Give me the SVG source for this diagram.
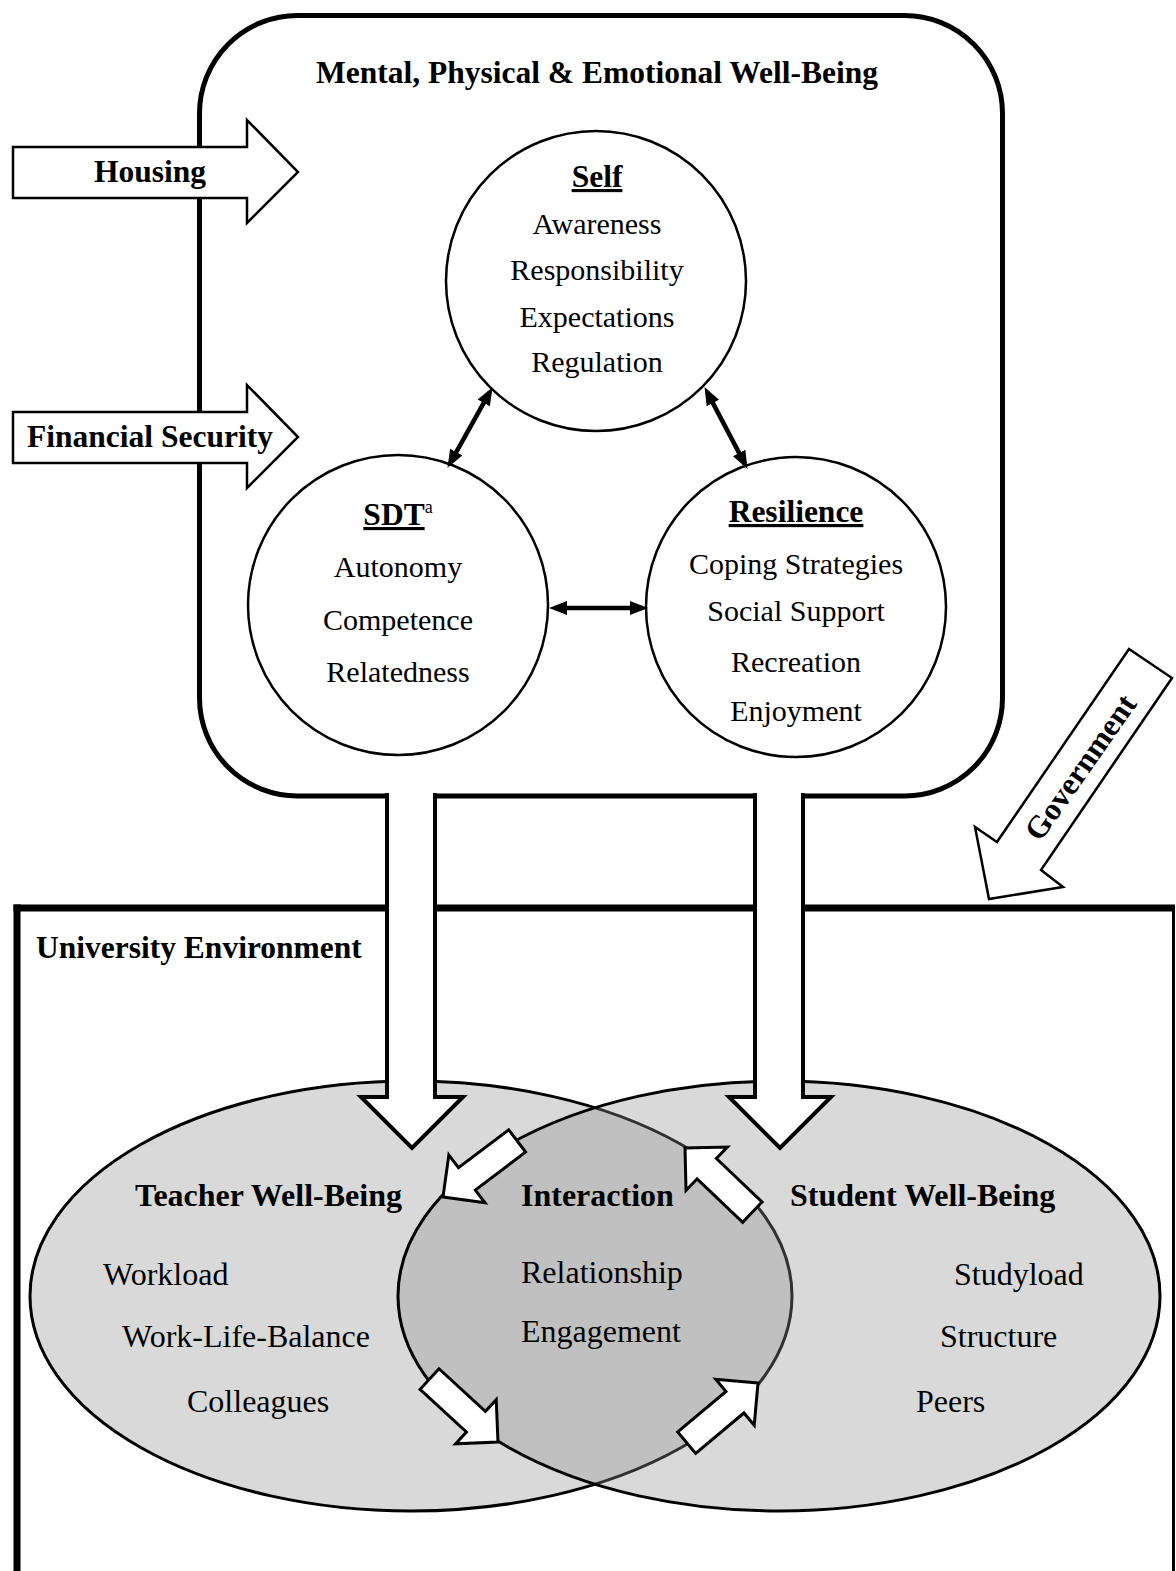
<svg xmlns="http://www.w3.org/2000/svg" width="1176" height="1571" viewBox="0 0 1176 1571">
<style>
text{font-family:"Liberation Serif","Times New Roman",serif;fill:#000}
.b{font-weight:bold;font-size:31.5px}
.r{font-size:30px}
.bb{font-weight:bold;font-size:32px}
.rr{font-size:32px}
.m{text-anchor:middle}
.circle{fill:#fff;stroke:#000;stroke-width:2.5}
.blk{fill:#fff;stroke:#000;stroke-width:3;stroke-linejoin:miter}
.dbl{stroke:#000;stroke-width:4.5;fill:none;marker-start:url(#ah);marker-end:url(#ah)}
</style>
<defs>
<marker id="ah" markerUnits="userSpaceOnUse" markerWidth="18" markerHeight="14" refX="12" refY="7" orient="auto-start-reverse" viewBox="0 0 18 14">
<path d="M0,0 L18,7 L0,14 z" fill="#000"/>
</marker>
<path id="sa" d="M0,0 L-30,-30 L-30,-14 L-93,-14 L-93,14 L-30,14 L-30,30 Z"/>
</defs>
<rect width="1176" height="1571" fill="#fff"/>

<g id="wellbeing-box">
<rect x="199.5" y="15.5" width="803" height="780.5" rx="98" ry="98" fill="#fff" stroke="#000" stroke-width="5"/>
<text class="b m" x="597" y="83">Mental, Physical &amp; Emotional Well-Being</text>
</g>

<g id="self">
<circle class="circle" cx="596" cy="281" r="150"/>
<text class="b m" x="597" y="187" text-decoration="underline">Self</text>
<text class="r m" x="597" y="234">Awareness</text>
<text class="r m" x="597" y="280">Responsibility</text>
<text class="r m" x="597" y="327">Expectations</text>
<text class="r m" x="597" y="372">Regulation</text>
</g>

<g id="sdt">
<circle class="circle" cx="398" cy="605" r="150"/>
<text class="m" x="398" y="525"><tspan class="b" text-decoration="underline">SDT</tspan><tspan font-size="18" dy="-12">a</tspan></text>
<text class="r m" x="398" y="577">Autonomy</text>
<text class="r m" x="398" y="630">Competence</text>
<text class="r m" x="398" y="682">Relatedness</text>
</g>

<g id="resilience">
<circle class="circle" cx="796" cy="607" r="150"/>
<text class="b m" x="796" y="522" text-decoration="underline">Resilience</text>
<text class="r m" x="796" y="574">Coping Strategies</text>
<text class="r m" x="796" y="621">Social Support</text>
<text class="r m" x="796" y="672">Recreation</text>
<text class="r m" x="796" y="721">Enjoyment</text>
</g>

<g id="housing">
<path d="M13,147 H247 V120 L298,172 L247,223 V198 H13 Z" fill="#fff" stroke="#000" stroke-width="2.5"/>
<text class="b m" x="150" y="182">Housing</text>
</g>
<g id="financial-security">
<path d="M13,412 H247 V385 L298,437 L247,488 V463 H13 Z" fill="#fff" stroke="#000" stroke-width="2.5"/>
<text class="b m" x="150" y="447">Financial Security</text>
</g>

<g id="university-environment">
<line x1="13.5" y1="908" x2="1175" y2="908" stroke="#000" stroke-width="7"/>
<line x1="17" y1="904.5" x2="17" y2="1571" stroke="#000" stroke-width="7"/>
<line x1="1173.5" y1="908" x2="1173.5" y2="1571" stroke="#000" stroke-width="3"/>
<text class="b" x="36" y="958">University Environment</text>
</g>

<g id="government">
<path d="M1129,649 L1172,678 L1041,870 L1063,887 L989,899 L975,827 L997,842 Z" fill="#fff" stroke="#000" stroke-width="2.5"/>
<text class="b m" transform="translate(1080,767) rotate(-55)" y="11">Government</text>
</g>

<g id="teacher-wellbeing">
<ellipse cx="411" cy="1296" rx="381" ry="215" fill="#d9d9d9" stroke="#000" stroke-width="3"/>
</g>
<g id="student-wellbeing">
<ellipse cx="779" cy="1296" rx="381" ry="215" fill="#909090" fill-opacity="0.34" stroke="#000" stroke-width="3"/>
</g>

<g id="connectors">
<line class="dbl" x1="489.6" y1="392.4" x2="450.4" y2="462.6"/>
<line class="dbl" x1="707.3" y1="392.4" x2="744.7" y2="463.6"/>
<line class="dbl" x1="555" y1="608" x2="642" y2="608"/>
<path d="M387,793 V1097 H361 L412,1148 L463,1097 H435 V793" fill="#fff" stroke="#000" stroke-width="4"/>
<path d="M755,793 V1097 H729 L780,1148 L831,1097 H803 V793" fill="#fff" stroke="#000" stroke-width="4"/>
<use href="#sa" class="blk" transform="translate(443,1197) rotate(142.9)"/>
<use href="#sa" class="blk" transform="translate(685,1148) rotate(223.6)"/>
<use href="#sa" class="blk" transform="translate(498,1442) rotate(42.6)"/>
<use href="#sa" class="blk" transform="translate(758,1383) rotate(-39.9)"/>
</g>

<g id="teacher-text">
<text class="bb" x="135" y="1206">Teacher Well-Being</text>
<text class="rr" x="103" y="1285">Workload</text>
<text class="rr" x="122" y="1347">Work-Life-Balance</text>
<text class="rr" x="187" y="1412">Colleagues</text>
</g>
<g id="interaction">
<text class="bb" x="521" y="1206">Interaction</text>
<text class="rr" x="521" y="1283">Relationship</text>
<text class="rr" x="521" y="1342">Engagement</text>
</g>
<g id="student-text">
<text class="bb" x="790" y="1206">Student Well-Being</text>
<text class="rr" x="954" y="1285">Studyload</text>
<text class="rr" x="940" y="1347">Structure</text>
<text class="rr" x="916" y="1412">Peers</text>
</g>
</svg>
